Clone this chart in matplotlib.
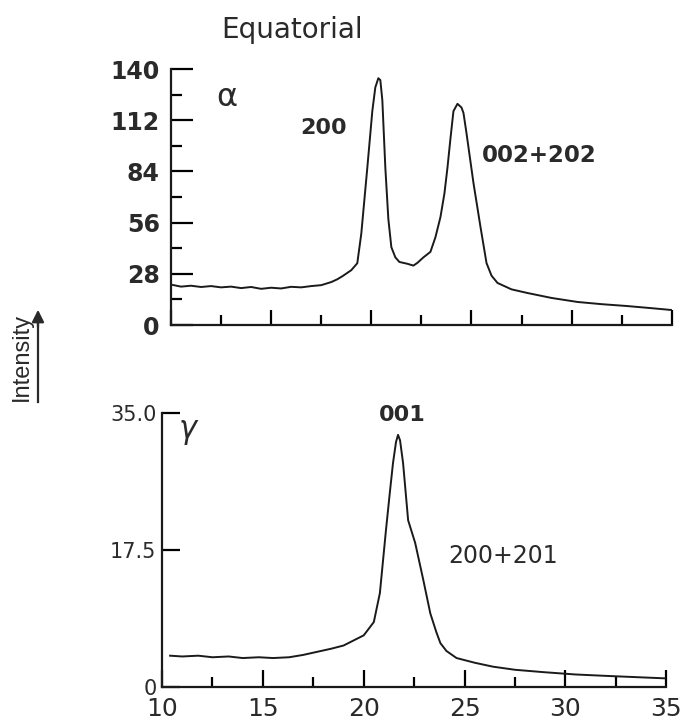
import matplotlib.pyplot as plt
import numpy as np

# alpha phase, equatorial scan (2theta, intensity)
alpha_x = [10.1, 10.5, 11.0, 11.5, 12.0, 12.5, 13.0, 13.5, 14.0, 14.5, 15.0, 15.5,
           16.0, 16.5, 17.0, 17.5, 18.0, 18.3, 18.6, 19.0, 19.3, 19.5, 19.65, 19.8,
           20.05, 20.2, 20.35, 20.45, 20.55, 20.7, 20.85, 21.0, 21.2, 21.4, 21.8, 22.1,
           22.3, 22.6, 22.95, 23.2, 23.45, 23.65, 23.8, 23.95, 24.1, 24.3, 24.5, 24.6,
           24.75, 25.1, 25.45, 25.75, 26.0, 26.3, 27.0, 27.8, 29.0, 30.3, 31.5, 32.75,
           34.0, 35.0]
alpha_y = [21.9, 21.0, 21.5, 20.8, 21.3, 20.6, 21.0, 20.2, 20.8, 19.8, 20.4, 20.0,
           20.9, 20.6, 21.3, 21.8, 23.5, 25.0, 27.0, 30.0, 33.8, 50.0, 68.0, 86.0,
           117.0, 130.0, 135.0, 134.0, 123.0, 86.0, 58.0, 42.6, 37.0, 34.5, 33.5, 32.5,
           34.0, 37.0, 40.0, 48.0, 59.0, 72.0, 86.0, 102.0, 117.0, 121.0, 119.0, 116.0,
           105.0, 77.6, 53.6, 33.9, 27.0, 23.0, 19.5, 17.5, 14.8, 12.6, 11.4, 10.4,
           9.2, 8.2]

# gamma phase
gamma_x = [10.4, 11.0, 11.8, 12.5, 13.3, 14.0, 14.8, 15.5, 16.3, 17.0, 17.7, 18.4,
           19.0, 20.0, 20.5, 20.8, 21.1, 21.3, 21.45, 21.6, 21.7, 21.8, 21.95, 22.2,
           22.55, 22.95, 23.3, 23.6, 23.8, 24.1, 24.6, 25.5, 26.4, 27.5, 28.9, 30.5,
           32.2, 33.6, 35.0]
gamma_y = [4.0, 3.9, 4.0, 3.8, 3.9, 3.7, 3.8, 3.7, 3.8, 4.1, 4.5, 4.9,
           5.3, 6.6, 8.3, 12.0, 20.0, 25.0, 28.6, 31.3, 32.2, 31.5, 28.6, 21.3,
           18.4, 13.7, 9.4, 7.0, 5.6, 4.6, 3.7, 3.1, 2.6, 2.2, 1.9, 1.6,
           1.4, 1.25, 1.1]

alpha_yticks = [0, 28, 56, 84, 112, 140]
alpha_yminor = [14, 42, 70, 98, 126]
gamma_yticks = [0, 17.5, 35.0]
gamma_ylabels = ["0", "17.5", "35.0"]
xticks = [10, 15, 20, 25, 30, 35]
xminor = [12.5, 17.5, 22.5, 27.5, 32.5]

plt.rcParams['font.family'] = ['DejaVu Sans']
ink = '#2a2a2a'

fig = plt.figure(figsize=(6.88, 7.25), dpi=100)

# top panel
ax1 = fig.add_axes([0.2485, 0.5517, 0.728, 0.353])
ax1.plot(alpha_x, alpha_y, color='#1a1a1a', lw=1.4)
ax1.set_xlim(10, 35)
ax1.set_ylim(0, 140)
ax1.spines['top'].set_visible(False)
ax1.spines['right'].set_visible(False)
for s in ['left', 'bottom']:
    ax1.spines[s].set_linewidth(1.6)
    ax1.spines[s].set_color('#1a1a1a')
ax1.set_yticks(alpha_yticks)
ax1.set_yticks(alpha_yminor, minor=True)
ax1.set_yticklabels([str(v) for v in alpha_yticks], fontsize=17, fontweight='bold', color=ink)
ax1.set_xticks(xticks)
ax1.set_xticks(xminor, minor=True)
ax1.set_xticklabels([])
ax1.tick_params(axis='y', which='major', direction='in', length=16, width=1.6, pad=8)
ax1.tick_params(axis='y', which='minor', direction='in', length=8, width=1.6)
ax1.tick_params(axis='x', which='major', direction='in', length=11, width=1.6)
ax1.tick_params(axis='x', which='minor', direction='in', length=7, width=1.6)
ax1.text(12.8, 124.6, "α", fontsize=23, color=ink, ha='center', va='center')
ax1.text(17.6, 107.7, "200", fontsize=16, fontweight='bold', color=ink, ha='center', va='center')
ax1.text(28.4, 93, "002+202", fontsize=16.5, fontweight='bold', color=ink, ha='center', va='center')

fig.text(292 / 688, 1 - 30 / 725, "Equatorial", fontsize=20, color=ink, ha='center', va='center')

# bottom panel
ax2 = fig.add_axes([0.2355, 0.0524, 0.733, 0.378])
ax2.plot(gamma_x, gamma_y, color='#1a1a1a', lw=1.4)
ax2.set_xlim(10, 35)
ax2.set_ylim(0, 35)
ax2.spines['top'].set_visible(False)
ax2.spines['right'].set_visible(False)
for s in ['left', 'bottom']:
    ax2.spines[s].set_linewidth(1.6)
    ax2.spines[s].set_color('#1a1a1a')
ax2.set_yticks(gamma_yticks)
ax2.set_yticklabels(gamma_ylabels, fontsize=15, color=ink)
ax2.set_xticks(xticks)
ax2.set_xticks(xminor, minor=True)
ax2.set_xticklabels([str(v) for v in xticks], fontsize=18, color=ink)
ax2.tick_params(axis='y', which='major', direction='in', length=13, width=1.6, pad=4)
ax2.tick_params(axis='x', which='major', direction='in', length=12, width=1.6, pad=7)
ax2.tick_params(axis='x', which='minor', direction='in', length=7, width=1.6)
ax2.text(11.3, 32.5, r"$\gamma$", fontsize=22, color=ink, ha='center', va='center')
ax2.text(21.9, 34.8, "001", fontsize=16, fontweight='bold', color=ink, ha='center', va='center')
ax2.text(26.9, 16.7, "200+201", fontsize=17, color=ink, ha='center', va='center')

# Intensity label with arrow
fig.text(22 / 688, 1 - 357 / 725, "Intensity", rotation=90, fontsize=17,
         family=['Liberation Sans Narrow', 'Liberation Sans', 'DejaVu Sans'],
         ha='center', va='center', color=ink)
fig.add_artist(plt.Line2D([38 / 688, 38 / 688], [1 - 402 / 725, 1 - 320 / 725],
                          color=ink, lw=1.6))
ax1.annotate("", xy=(38 / 688, 1 - 307 / 725), xytext=(38 / 688, 1 - 330 / 725),
             xycoords='figure fraction', textcoords='figure fraction',
             arrowprops=dict(arrowstyle='-|>', color=ink, lw=1.6, mutation_scale=18))

fig.savefig("out.png", dpi=100)
